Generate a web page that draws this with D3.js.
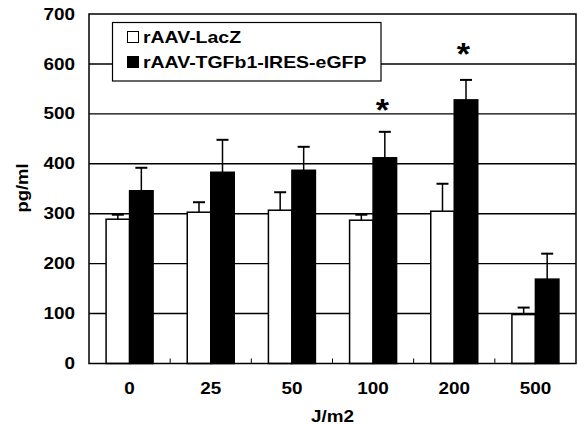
<!DOCTYPE html>
<html><head><meta charset="utf-8">
<script src="https://cdn.jsdelivr.net/npm/d3@7/dist/d3.min.js"></script>
<style>body{margin:0;background:#fff}svg{display:block}text{font-family:"Liberation Sans",Arial,sans-serif;font-weight:bold}</style>
</head><body><svg id="c" width="578" height="425"></svg>
<script>
const categories = ["0","25","50","100","200","500"];
const seriesNames = ["rAAV-LacZ","rAAV-TGFb1-IRES-eGFP"];
const lacz = [289, 303, 307, 287, 305, 98];
const laczErr = [9, 20, 36, 11, 55, 14];
const tgf = [346, 383, 387, 412, 528, 169];
const tgfErr = [46, 65, 47, 52, 40, 51];
const significant = ["100","200"];
const significantLevel = [515, 628];
const yTicks = [0,100,200,300,400,500,600,700];

const svg = d3.select("#c");
const L=89, R=576, T=14, B=363.5;
const x = d3.scaleBand().domain(categories).range([L,R]);
const y = d3.scaleLinear().domain([0,700]).range([B,T]);
const barW = 23.5;
const SX = 1.18;

function txt(g, px, py, str, anchor, size){
  return g.append("text").attr("transform",`translate(${px},${py}) scale(${SX},1)`)
    .attr("text-anchor",anchor).attr("dy","0.35em").attr("font-size",size).text(str);
}

// gridlines
svg.append("g").selectAll("line").data(yTicks.filter(d=>d>0&&d<700)).join("line")
  .attr("x1",L).attr("x2",R).attr("y1",d=>y(d)).attr("y2",d=>y(d))
  .attr("stroke","#000").attr("stroke-width",1.4);

// y tick labels
const yl = svg.append("g");
yTicks.forEach(d=>txt(yl, 75, y(d), d, "end", 16));

// category separator ticks
svg.append("g").selectAll("line").data(categories.slice(1)).join("line")
  .attr("x1",d=>x(d)).attr("x2",d=>x(d)).attr("y1",B).attr("y2",B-5)
  .attr("stroke","#000").attr("stroke-width",1);

const series = [
  {vals:lacz, err:laczErr, fill:"#fff", off:-barW},
  {vals:tgf, err:tgfErr, fill:"#000", off:0}
];
series.forEach(s=>{
  const g = svg.append("g");
  const cx = c=>x(c)+x.bandwidth()/2+s.off+barW/2;
  g.selectAll("line.e").data(categories).join("line").attr("class","e")
    .attr("x1",cx).attr("x2",cx)
    .attr("y1",(c,i)=>y(s.vals[i])).attr("y2",(c,i)=>y(s.vals[i]+s.err[i]))
    .attr("stroke","#000").attr("stroke-width",1.5);
  g.selectAll("line.cap").data(categories).join("line").attr("class","cap")
    .attr("x1",c=>cx(c)-6).attr("x2",c=>cx(c)+6)
    .attr("y1",(c,i)=>y(s.vals[i]+s.err[i])).attr("y2",(c,i)=>y(s.vals[i]+s.err[i]))
    .attr("stroke","#000").attr("stroke-width",2);
  g.selectAll("rect").data(categories).join("rect")
    .attr("x",c=>x(c)+x.bandwidth()/2+s.off).attr("width",barW)
    .attr("y",(c,i)=>y(s.vals[i])).attr("height",(c,i)=>B-y(s.vals[i]))
    .attr("fill",s.fill).attr("stroke","#000").attr("stroke-width",1.5);
});

// asterisks
svg.append("g").selectAll("text").data(significant).join("text")
  .attr("transform",(c,i)=>`translate(${x(c)+x.bandwidth()/2+barW/2-2.5},${y(significantLevel[i])+15}) scale(1.1,1)`)
  .attr("text-anchor","middle").attr("font-size",31).text("*");

// plot frame
svg.append("rect").attr("x",L).attr("y",T).attr("width",R-L).attr("height",B-T)
  .attr("fill","none").attr("stroke","#000").attr("stroke-width",1.5);

// x labels
const xl = svg.append("g");
categories.forEach(c=>txt(xl, x(c)+x.bandwidth()/2, 388, c, "middle", 16));
txt(svg, 332.5, 416, "J/m2", "middle", 16);
svg.append("text").attr("transform","translate(22,188) rotate(-90) scale(1.15,1)").attr("dy","0.35em")
  .attr("text-anchor","middle").attr("font-size",16).text("pg/ml");

// legend
const lg = svg.append("g");
lg.append("rect").attr("x",112.5).attr("y",22.5).attr("width",268.5).attr("height",58.5)
  .attr("fill","#fff").attr("stroke","#000").attr("stroke-width",1.2);
const legFills=["#fff","#000"];
seriesNames.forEach((n,i)=>{
  const yy = 37 + i*25;
  lg.append("rect").attr("x",127.5).attr("y",yy-5.5).attr("width",11).attr("height",11)
    .attr("fill",legFills[i]).attr("stroke","#000").attr("stroke-width",1);
  txt(lg, 143, yy, n, "start", 16.5);
});
</script></body></html>
